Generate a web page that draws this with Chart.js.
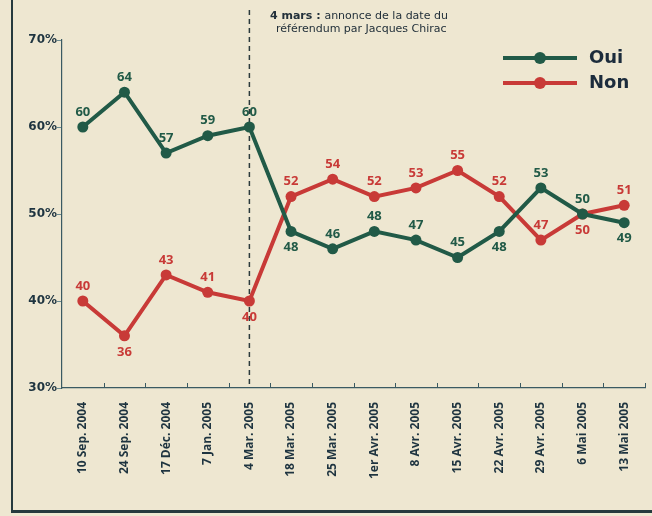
<!DOCTYPE html>
<html>
<head>
<meta charset="utf-8">
<script src="https://cdn.jsdelivr.net/npm/chart.js@4"></script>
<style>
  html,body{margin:0;padding:0;background:#eee7d1;}
  #wrap{position:relative;width:652px;height:516px;}
  canvas{display:block;}
</style>
</head>
<body>
<div id="wrap"><canvas id="c" width="652" height="516"></canvas></div>
<script>
const categories = ['10 Sep. 2004','24 Sep. 2004','17 Déc. 2004','7 Jan. 2005','4 Mar. 2005','18 Mar. 2005','25 Mar. 2005','1er Avr. 2005','8 Avr. 2005','15 Avr. 2005','22 Avr. 2005','29 Avr. 2005','6 Mai 2005','13 Mai 2005'];
const oui = [60, 64, 57, 59, 60, 48, 46, 48, 47, 45, 48, 53, 50, 49];
const non = [40, 36, 43, 41, 40, 52, 54, 52, 53, 55, 52, 47, 50, 51];
const ouiLabelSide = ['top','top','top','top','top','bottom','top','top','top','top','bottom','top','top','bottom'];
const nonLabelSide = ['top','bottom','top','top','bottom','top','top','top','top','top','top','top','bottom','top'];
const yTicks = [30, 40, 50, 60, 70];
const eventIndex = 4;
const eventTitle = '4 mars :';
const eventLine1 = 'annonce de la date du';
const eventLine2 = 'référendum par Jacques Chirac';

const GREEN = '#215a47';
const RED = '#c83a37';
const INK = '#1e3440';
const PAPER = '#eee7d1';

const bgPlugin = {
  id: 'bg',
  beforeDraw(chart) {
    const ctx = chart.ctx;
    ctx.save();
    ctx.fillStyle = PAPER;
    ctx.fillRect(0, 0, chart.width, chart.height);
    ctx.strokeStyle = '#263a3e';
    ctx.lineWidth = 2;
    ctx.beginPath();
    ctx.moveTo(12, 0);
    ctx.lineTo(12, 511);
    ctx.stroke();
    ctx.lineWidth = 3;
    ctx.beginPath();
    ctx.moveTo(11, 511.5);
    ctx.lineTo(chart.width, 511.5);
    ctx.stroke();
    ctx.restore();
  }
};

const overlayPlugin = {
  id: 'overlay',
  beforeDatasetsDraw(chart) {
    const ctx = chart.ctx;
    const xs = chart.scales.x;
    const area = chart.chartArea;
    ctx.save();
    const ex = xs.getPixelForValue(eventIndex);
    ctx.strokeStyle = '#2b3a3c';
    ctx.lineWidth = 1.5;
    ctx.setLineDash([5, 4]);
    ctx.beginPath();
    ctx.moveTo(ex, 10);
    ctx.lineTo(ex, area.bottom);
    ctx.stroke();
    ctx.setLineDash([]);
    ctx.strokeStyle = '#3a5a62';
    ctx.lineWidth = 1;
    const n = categories.length;
    for (let i = 1; i <= n; i++) {
      const px = i < n ? (xs.getPixelForValue(i - 1) + xs.getPixelForValue(i)) / 2 : xs.right;
      ctx.beginPath();
      ctx.moveTo(Math.round(px) + 0.5, area.bottom);
      ctx.lineTo(Math.round(px) + 0.5, area.bottom - 5);
      ctx.stroke();
    }
    ctx.fillStyle = '#22303a';
    ctx.textBaseline = 'middle';
    ctx.textAlign = 'left';
    ctx.font = 'bold 11px "DejaVu Sans", sans-serif';
    const t1x = 270;
    ctx.fillText(eventTitle, t1x, 16);
    const w = ctx.measureText(eventTitle + ' ').width;
    ctx.font = '11px "DejaVu Sans", sans-serif';
    ctx.fillText(eventLine1, t1x + w, 16);
    ctx.fillText(eventLine2, 276, 29);
    ctx.restore();
  },
  afterDatasetsDraw(chart) {
    const ctx = chart.ctx;
    ctx.save();
    ctx.font = 'bold 13px "Open Sans", sans-serif';
    ctx.textAlign = 'center';
    ctx.textBaseline = 'middle';
    const sets = [[0, ouiLabelSide, GREEN], [1, nonLabelSide, RED]];
    sets.forEach(([di, sides, col]) => {
      const meta = chart.getDatasetMeta(di);
      const vals = chart.data.datasets[di].data;
      ctx.fillStyle = col;
      meta.data.forEach((pt, i) => {
        const dy = sides[i] === 'top' ? -15 : 16;
        ctx.fillText(String(vals[i]), pt.x, pt.y + dy);
      });
    });
    const items = [['Oui', GREEN, 58], ['Non', RED, 83]];
    items.forEach(([txt, col, y]) => {
      ctx.strokeStyle = col;
      ctx.lineWidth = 4;
      ctx.beginPath();
      ctx.moveTo(503, y);
      ctx.lineTo(577, y);
      ctx.stroke();
      ctx.fillStyle = col;
      ctx.beginPath();
      ctx.arc(540, y, 6, 0, Math.PI * 2);
      ctx.fill();
      ctx.fillStyle = '#1c2c3c';
      ctx.font = 'bold 18px "DejaVu Sans", sans-serif';
      ctx.textAlign = 'left';
      ctx.fillText(txt, 589, y);
    });
    ctx.restore();
  }
};

new Chart(document.getElementById('c'), {
  type: 'line',
  data: {
    labels: categories,
    datasets: [
      { label: 'Oui', data: oui, borderColor: GREEN, backgroundColor: GREEN, borderWidth: 4,
        pointRadius: 5.5, pointBackgroundColor: GREEN, pointBorderWidth: 0, tension: 0 },
      { label: 'Non', data: non, borderColor: RED, backgroundColor: RED, borderWidth: 4,
        pointRadius: 5.5, pointBackgroundColor: RED, pointBorderWidth: 0, tension: 0 }
    ]
  },
  options: {
    responsive: false,
    animation: false,
    layout: { padding: { top: 40, right: 7, left: 0, bottom: 0 } },
    plugins: { legend: { display: false }, tooltip: { enabled: false } },
    scales: {
      x: {
        offset: true,
        grid: { display: false, offset: true },
        border: { display: true, color: '#3a5a62', width: 1.2 },
        ticks: { color: INK, font: { family: '"Open Sans", sans-serif', weight: 'bold', size: 12 },
                 minRotation: 90, maxRotation: 90, autoSkip: false, padding: 6 },
        afterFit(s) { s.height = 516 - 388; }
      },
      y: {
        min: 30, max: 70,
        afterBuildTicks(s) { s.ticks = yTicks.map(v => ({ value: v })); },
        grid: { drawOnChartArea: false, tickLength: 5, color: '#6a8a90' },
        border: { display: true, color: '#3a5a62', width: 1.2 },
        ticks: { color: INK, font: { family: '"DejaVu Sans", sans-serif', weight: 'bold', size: 12 },
                 padding: 0, callback: v => v + '%' },
        afterFit(s) { s.width = 62; }
      }
    }
  },
  plugins: [bgPlugin, overlayPlugin]
});
</script>
</body>
</html>
